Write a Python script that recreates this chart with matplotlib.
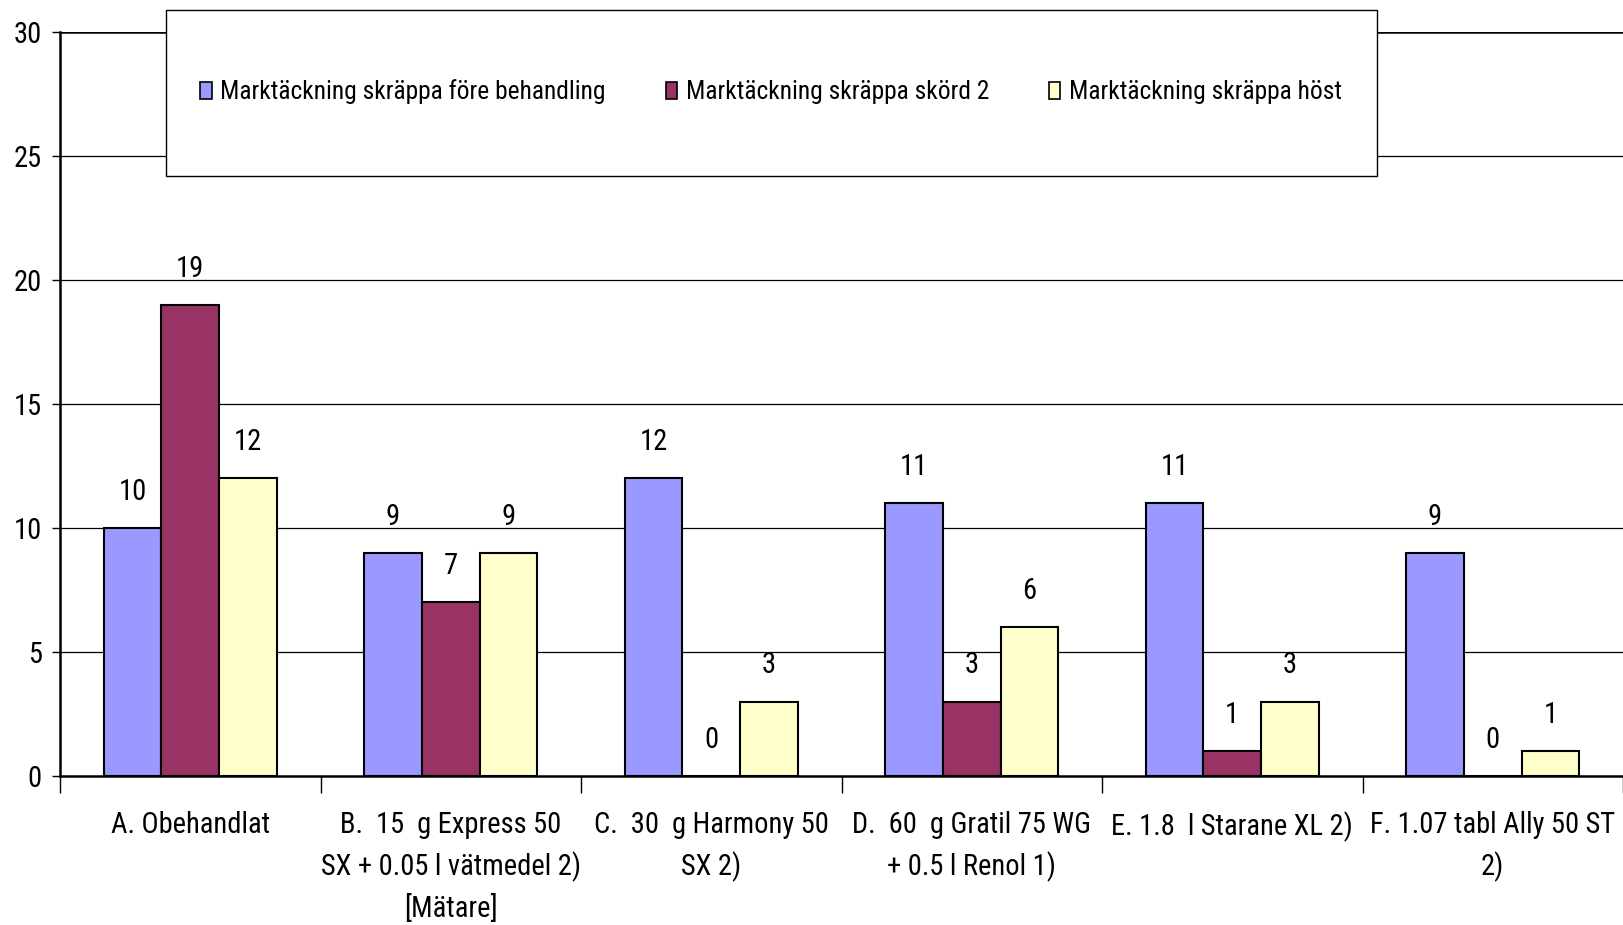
import matplotlib
matplotlib.use("Agg")
import matplotlib.pyplot as plt
from matplotlib.patches import Rectangle, Patch
from matplotlib.font_manager import FontProperties
import numpy as np

FONT = ['Roboto Condensed', 'DejaVu Sans']
plt.rcParams['font.family'] = FONT

categories = [
    "A. Obehandlat",
    "B.  15  g Express 50\nSX + 0.05 l vätmedel 2)\n[Mätare]",
    "C.  30  g Harmony 50\nSX 2)",
    "D.  60  g Gratil 75 WG\n+ 0.5 l Renol 1)",
    "E. 1.8  l Starane XL 2)",
    "F. 1.07 tabl Ally 50 ST\n2)",
]
series_names = [
    "Marktäckning skräppa före behandling",
    "Marktäckning skräppa skörd 2",
    "Marktäckning skräppa höst",
]
fore = [10, 9, 12, 11, 11, 9]
skord2 = [19, 7, 0, 3, 1, 0]
host = [12, 9, 3, 6, 3, 1]
yticks = [0, 5, 10, 15, 20, 25, 30]

colors = ["#9999FF", "#993366", "#FFFFCC"]

fig = plt.figure(figsize=(16.23, 9.25), dpi=100)
renderer = fig.canvas.get_renderer()
wtest, _, _ = renderer.get_text_width_height_descent(series_names[0], FontProperties(family=FONT, size=10), ismath=False)
fs = min(10 * 385 / wtest, 22)
fspx = fs * 100 / 72
fs2 = fs * 1.12

ax = fig.add_axes([60/1623, 1-776/925, 1-60/1623, (776-32)/925])

x = np.arange(len(categories))
w = 0.222
for i, (vals, c, name) in enumerate(zip([fore, skord2, host], colors, series_names)):
    pos = x + (i - 1) * w
    ax.bar(pos, vals, width=w, color=c, edgecolor='black', linewidth=1.5, zorder=3, label=name)
    for px, v in zip(pos, vals):
        ax.annotate(str(v), (px, v), xytext=(0, 26), textcoords='offset points',
                    ha='center', va='center', fontsize=fs2, zorder=4)

ax.set_xlim(-0.5, len(categories) - 0.5)
ax.set_ylim(0, 30)
ax.set_yticks(yticks)
ax.set_yticklabels([str(t) for t in yticks], fontsize=fs2)
for t in yticks[1:]:
    lw = 1.8 if t == 30 else 0.9
    ax.axhline(t, color='black', linewidth=lw, zorder=1)

ax.set_xticks(x)
ax.set_xticklabels(categories, fontsize=fs2, linespacing=1.5)
ax.set_xticks(np.arange(-0.5, len(categories)), minor=True)
ax.tick_params(axis='x', which='major', length=0, pad=25.5)
ax.tick_params(axis='x', which='minor', length=12, width=1, direction='out')
ax.tick_params(axis='y', length=6, width=1, direction='out', pad=7)

for s in ['top', 'right']:
    ax.spines[s].set_visible(False)
ax.spines['left'].set_linewidth(1.8)
ax.spines['bottom'].set_linewidth(1.8)

# Legend box
bx0, by0 = 166/1623, 1-176/925
bw, bh = (1377-166)/1623, (176-10)/925
fig.patches.append(Rectangle((bx0, by0), bw, bh, transform=fig.transFigure,
                             facecolor='white', edgecolor='black', linewidth=1.0, zorder=10))
handles = [Patch(facecolor=c, edgecolor='black', linewidth=1.2) for c in colors]
leg = fig.legend(handles, series_names, loc='center left', bbox_to_anchor=(200/1623, 1-92/925),
                 ncol=3, frameon=False, fontsize=fs, handlelength=11.5/fspx, handleheight=16.5/fspx,
                 handletextpad=8.5/fspx, columnspacing=60/fspx, borderpad=0, borderaxespad=0)
leg.set_zorder(11)

fig.savefig("out.png", dpi=100)
